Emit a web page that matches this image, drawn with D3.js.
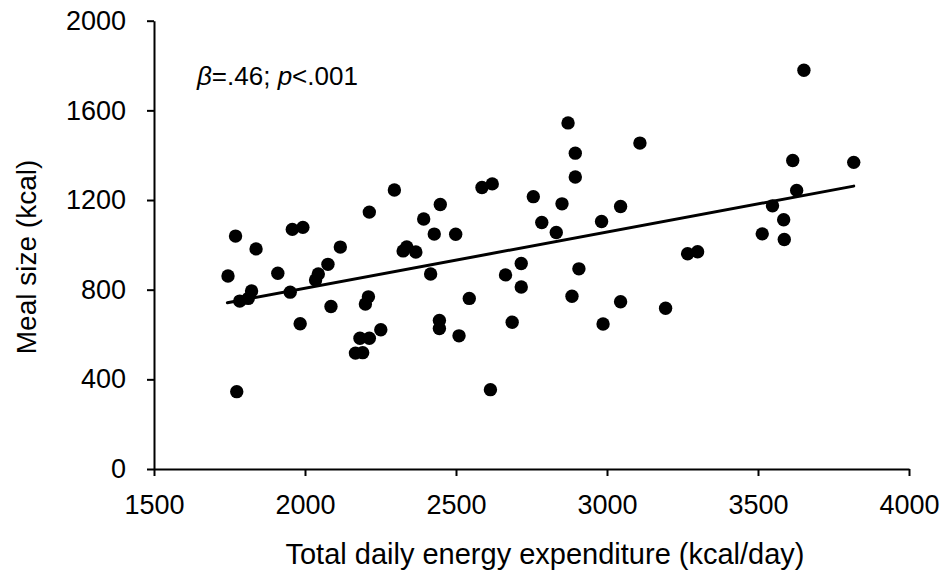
<!DOCTYPE html>
<meta charset="utf-8">
<head>
	<title>Meal size vs total daily energy expenditure</title>
</head>

<style>

body{
	margin: 0;
	background-color: #fff;
}

svg{
	display: block;
	font-family: "Liberation Sans", Arial, sans-serif;
}

.dot{
	fill: #000;
}

.axis path, .axis line{
	stroke: #000;
	stroke-width: 2;
}

.axis text{
	font-size: 27px;
	fill: #000;
}

</style>

<body>

<svg class="chart" width="944" height="572"></svg>

<script src="https://cdnjs.cloudflare.com/ajax/libs/d3/7.8.5/d3.min.js"></script>
<script>

// energy expenditure (kcal/day)
var tdee = [1745, 1770, 1774, 1784, 1812, 1823, 1838, 1910, 1951, 1958,
	1984, 1993, 2035, 2044, 2076, 2086, 2117, 2167, 2182, 2191,
	2200, 2210, 2213, 2213, 2251, 2296, 2325, 2337, 2367, 2393,
	2416, 2428, 2445, 2445, 2448, 2499, 2510, 2544, 2586, 2614,
	2620, 2664, 2686, 2716, 2716, 2756, 2784, 2832, 2851, 2871,
	2884, 2895, 2895, 2907, 2982, 2987, 3045, 3045, 3109, 3194,
	3267, 3300, 3514, 3548, 3585, 3587, 3615, 3628, 3652, 3817];

// meal size (kcal)
var meal = [861, 1039, 345, 749, 761, 794, 982, 873, 789, 1069,
	648, 1078, 843, 870, 913, 725, 990, 517, 583, 519,
	736, 768, 583, 1146, 621, 1245, 973, 991, 968, 1115,
	870, 1048, 663, 627, 1180, 1047, 594, 761, 1256, 354,
	1272, 866, 655, 917, 812, 1215, 1100, 1055, 1183, 1544,
	771, 1409, 1303, 893, 1104, 647, 1171, 746, 1454, 717,
	960, 969, 1049, 1174, 1112, 1024, 1376, 1243, 1779, 1368];

// fitted line end points
var fitX = [1743, 3817];
var fitY = [742, 1262];

var xTicks = [1500, 2000, 2500, 3000, 3500, 4000];
var yTicks = [0, 400, 800, 1200, 1600, 2000];

var points = tdee.map(function(d, i){
	return {x: d, y: meal[i]};
});

var svg = d3.select('.chart');

var x = d3.scaleLinear()
	.domain([1500, 4000])
	.range([154, 909]);

var y = d3.scaleLinear()
	.domain([0, 2000])
	.range([469, 20.7]);

// axes
svg.append('g')
	.attr('class', 'axis')
	.attr('transform', 'translate(0,' + y(0) + ')')
	.call(d3.axisBottom(x)
		.tickValues(xTicks)
		.tickSize(7)
		.tickSizeOuter(0)
		.tickPadding(19)
		.tickFormat(d3.format('d')));

svg.append('g')
	.attr('class', 'axis')
	.attr('transform', 'translate(' + x(1500) + ',0)')
	.call(d3.axisLeft(y)
		.tickValues(yTicks)
		.tickSize(7)
		.tickSizeOuter(0)
		.tickPadding(21)
		.tickFormat(d3.format('d')));

// fitted line
svg.append('line')
	.attr('x1', x(fitX[0]))
	.attr('y1', y(fitY[0]))
	.attr('x2', x(fitX[1]))
	.attr('y2', y(fitY[1]))
	.style('stroke', '#000')
	.style('stroke-width', 3)
	.style('stroke-linecap', 'round');

// points
svg.append('g')
	.selectAll('circle')
	.data(points)
	.enter()
	.append('circle')
	.attr('class', 'dot')
	.attr('r', 6.7)
	.attr('cx', function(d){
		return x(d.x);
	})
	.attr('cy', function(d){
		return y(d.y);
	});

// axis titles
svg.append('text')
	.attr('x', 545)
	.attr('y', 564)
	.attr('text-anchor', 'middle')
	.style('font-size', '29px')
	.text('Total daily energy expenditure (kcal/day)');

svg.append('text')
	.attr('transform', 'translate(36,257) rotate(-90)')
	.attr('text-anchor', 'middle')
	.style('font-size', '28px')
	.text('Meal size (kcal)');

// statistics note
var note = svg.append('text')
	.attr('x', 197)
	.attr('y', 85)
	.style('font-size', '26px');

note.append('tspan').style('font-style', 'italic').text('β');
note.append('tspan').text('=.46; ');
note.append('tspan').style('font-style', 'italic').text('p');
note.append('tspan').text('<.001');

</script>

</body>
</html>
